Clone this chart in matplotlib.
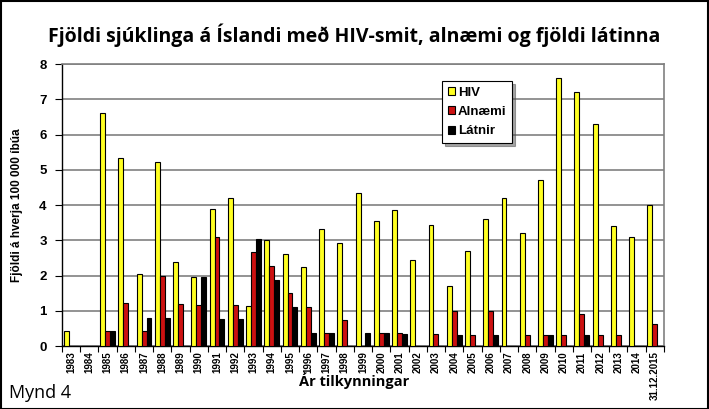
import numpy as np
import matplotlib.pyplot as plt
from matplotlib.patches import Rectangle

years = ["1983", "1984", "1985", "1986", "1987", "1988", "1989", "1990", "1991",
         "1992", "1993", "1994", "1995", "1996", "1997", "1998", "1999", "2000",
         "2001", "2002", "2003", "2004", "2005", "2006", "2007", "2008", "2009",
         "2010", "2011", "2012", "2013", "2014", "31.12.2015"]

hiv = [0.43, 0, 6.62, 5.34, 2.04, 5.21, 2.37, 1.96, 3.88, 4.20, 1.14, 3.00, 2.62,
       2.24, 3.33, 2.91, 4.33, 3.56, 3.85, 2.43, 3.44, 1.71, 2.70, 3.60, 4.20,
       3.20, 4.70, 7.61, 7.21, 6.31, 3.40, 3.10, 4.00]
alnaemi = [0, 0, 0.43, 1.23, 0.43, 2.00, 1.20, 1.17, 3.10, 1.15, 2.66, 2.26, 1.50,
           1.11, 0.38, 0.73, 0, 0.36, 0.36, 0, 0.34, 1.00, 0.31, 1.00, 0,
           0.31, 0.31, 0.31, 0.90, 0.31, 0.31, 0, 0.62]
latnir = [0, 0, 0.43, 0, 0.80, 0.79, 0, 1.95, 0.76, 0.76, 3.04, 1.87, 1.11,
          0.36, 0.36, 0, 0.36, 0.36, 0.34, 0, 0, 0.30, 0, 0.30, 0,
          0, 0.30, 0, 0.30, 0, 0, 0, 0]

fig = plt.figure(figsize=(7.09, 4.09), dpi=100)
ax = fig.add_axes([0.0874, 0.154, 0.8491, 0.6895])

x = np.arange(len(years))
w = 0.27
ax.bar(x - w, hiv, w, color="#ffff22", edgecolor="black", linewidth=0.8, label="HIV", zorder=3)
ax.bar(x, alnaemi, w, color="#cc1111", edgecolor="black", linewidth=0.8, label="Alnæmi", zorder=3)
ax.bar(x + w, latnir, w, color="black", edgecolor="black", linewidth=0.8, label="Látnir", zorder=3)

ax.set_xlim(-0.5, len(years) - 0.5)
ax.set_ylim(0, 8)
ax.set_yticks(range(9))
ax.yaxis.grid(True, color="#808080", linewidth=1.2, zorder=0)
ax.set_xticks(x)
ax.set_xticklabels(years, rotation=90, fontsize=7, fontweight="bold",
                   family="Liberation Sans")
ax.tick_params(axis="x", length=0, pad=4)
ax.set_xticks(np.arange(-0.5, len(years)), minor=True)
ax.tick_params(axis="x", which="minor", length=4, width=0.8)
for lab in ax.get_yticklabels():
    lab.set_fontweight("bold")
    lab.set_family("Liberation Sans")
    lab.set_fontsize(9.5)
ax.tick_params(axis="y", length=5, width=0.8, pad=6)

for s in ["top", "right"]:
    ax.spines[s].set_color("#808080")
    ax.spines[s].set_linewidth(1.2)
ax.spines["left"].set_linewidth(1.0)
ax.spines["bottom"].set_linewidth(1.0)

ax.set_ylabel("Fjöldi á hverja 100 000 íbúa", fontsize=8.5, fontweight="bold",
              family="Liberation Sans", labelpad=12)
fig.text(0.5, 0.07, "Ár tilkynningar", ha="center", va="center", fontsize=10.5,
         fontweight="bold", family="Open Sans")

leg = ax.legend(loc="upper left", bbox_to_anchor=(0.631, 0.94),
                prop={"weight": "bold", "family": "Liberation Sans", "size": 9.5},
                frameon=True, fancybox=False, shadow=True, handlelength=0.55,
                handleheight=0.55, handletextpad=0.2, borderpad=0.45,
                labelspacing=0.55, borderaxespad=0)
leg.get_frame().set_edgecolor("black")
leg.get_frame().set_linewidth(0.8)

fig.text(0.5, 0.914, "Fjöldi sjúklinga á Íslandi með HIV-smit, alnæmi og fjöldi látinna",
         ha="center", va="center", fontsize=14, fontweight="bold", family="Open Sans")
fig.text(0.012, 0.04, "Mynd 4", ha="left", va="center", fontsize=13, family="Open Sans")

fig.patches.append(Rectangle((0.001, 0.001), 0.997, 0.997, transform=fig.transFigure,
                             fill=False, edgecolor="black", linewidth=1.5))

fig.savefig("out.png", dpi=100)
